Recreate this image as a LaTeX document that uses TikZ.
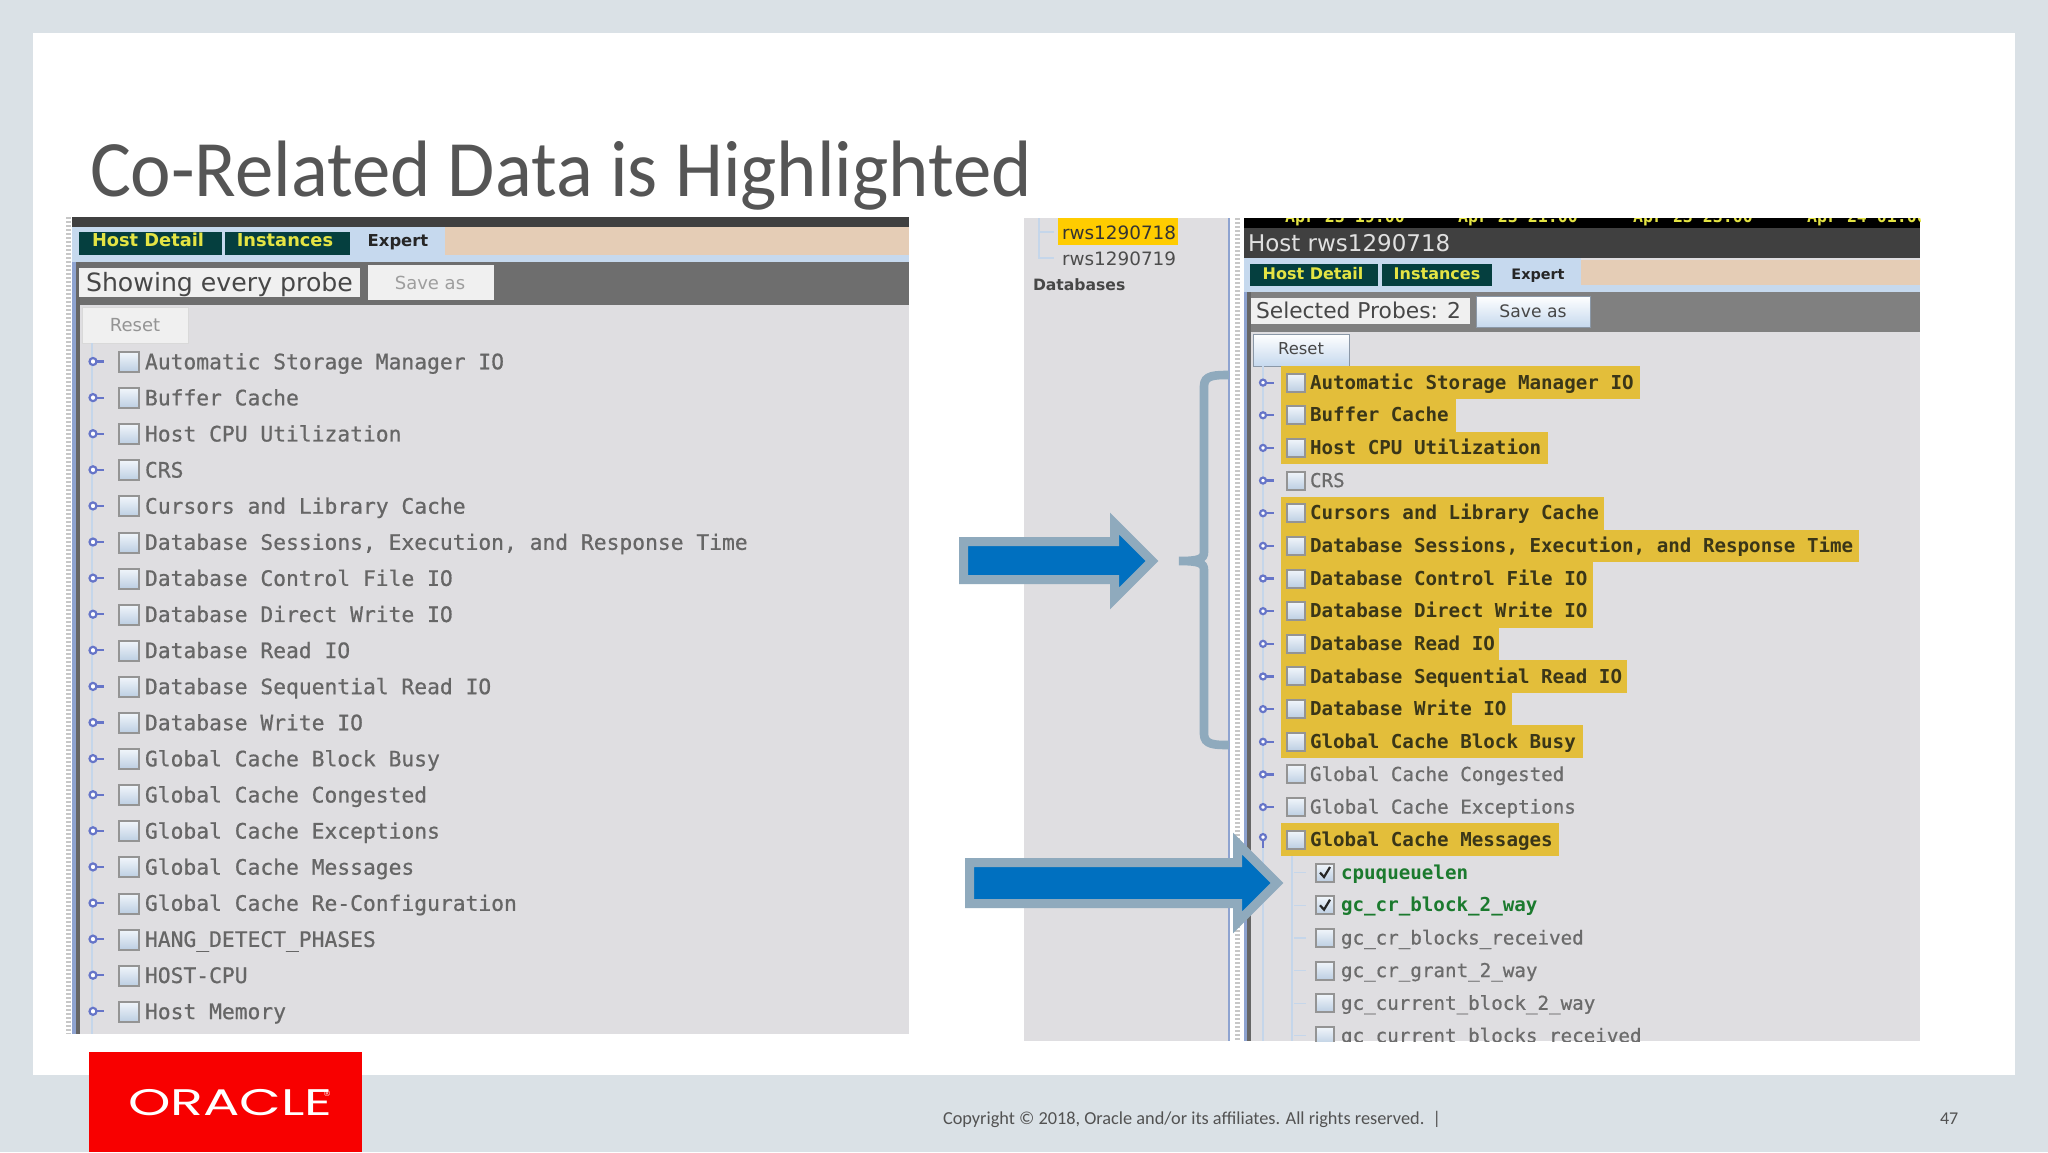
\documentclass[tikz,border=0pt]{standalone}
\usepackage{fontspec}
\setmainfont{Carlito}
\newfontfamily\monof[FakeBold=0.7]{DejaVu Sans Mono}
\newfontfamily\monoB{DejaVu Sans Mono}
\newfontfamily\uif{DejaVu Sans}
\newfontfamily\logof{Poppins}
\definecolor{slidebg}{HTML}{DAE1E6}
\definecolor{titlec}{HTML}{555555}
\definecolor{panelc}{HTML}{DFDEE1}
\definecolor{tabc}{HTML}{053F3F}
\definecolor{tabt}{HTML}{E4E444}
\definecolor{peach}{HTML}{E5CDB6}
\definecolor{tabl}{HTML}{C6D9EE}
\definecolor{barL}{HTML}{6E6E6E}
\definecolor{barR}{HTML}{808080}
\definecolor{hilite}{HTML}{E3BE3A}
\definecolor{gold}{HTML}{FFCC00}
\definecolor{arrowb}{HTML}{8FAABD}
\definecolor{arrowf}{HTML}{0070C0}
\definecolor{knob}{HTML}{6675C8}
\definecolor{tree}{HTML}{C5D6EA}
\definecolor{edge}{HTML}{8EA3D0}
\definecolor{orared}{HTML}{F80000}
\definecolor{rowgrey}{HTML}{666666}
\definecolor{rowdark}{HTML}{3A3618}
\definecolor{rowgreen}{HTML}{1B7A2E}
\tikzset{
  txt/.style={inner sep=0pt,outer sep=0pt},
  labL/.style={txt,anchor=mid west,text=rowgrey,font=\monof\fontsize{10.65}{12}\selectfont},
  labR/.style={txt,anchor=mid west,font=\monof\fontsize{9.6}{12}\selectfont},
  labRb/.style={txt,anchor=mid west,font=\monoB\bfseries\fontsize{9.6}{12}\selectfont},
  tabname/.style={txt,anchor=mid,text=tabt,font=\uif\bfseries\fontsize{8.9}{10}\selectfont},
  tabon/.style={txt,anchor=mid,text=black!85,font=\uif\bfseries\fontsize{8.2}{10}\selectfont},
  boxc/.style={draw=black!42,line width=1pt,top color=tabl!25!white,bottom color=tabl!95!black},
  btn/.style={draw=tabl!70!black,line width=.5pt,top color=white,bottom color=tabl},
  btnoff/.style={draw=black!15,line width=.5pt,fill=black!6},
  treeline/.style={draw=tree,line width=.6pt},
  knobc/.style={draw=knob,line width=1.1pt},
  bigarrow/.style={draw=arrowb,fill=arrowf,line width=4.5pt,miter limit=10},
  dotstrip/.style={draw=black!22,line width=2.5pt,dash pattern=on 1pt off 1pt}
}
\begin{document}
\begin{tikzpicture}[x=.5pt,y=-.5pt]
\useasboundingbox (0,0) rectangle (2048,1152);
\fill[slidebg] (0,0) rectangle (2048,1152);
\fill[white] (33,33) rectangle (2015,1075);
\node[txt,anchor=base west,text=titlec,font=\fontsize{40}{48}\selectfont] (title) at (90,196) {\scalebox{.96}[1]{Co-Related Data is Highlighted}};

% ---------- left panel
\fill[panelc] (72,217) rectangle (909,1034);
\draw[dotstrip] (68,217) -- (68,1034);
\fill[edge] (72,260) rectangle (76,1034);
\fill[black!60] (76,260) rectangle (80,1034);
\fill[black!75] (72,217) rectangle (909,227);
\fill[tabl] (72,227) rectangle (445,262);
\fill[peach] (445,227) rectangle (909,255);
\fill[tabl] (445,255) rectangle (909,262);
\fill[tabc] (79,232) rectangle (222,255);
\fill[tabc] (225,232) rectangle (350,255);
\node[tabname] (ltab1) at (148,242) {Host Detail};
\node[tabname] (ltab2) at (285,242) {Instances};
\node[tabon] (ltab3) at (398,242) {Expert};
\fill[barL] (80,262) rectangle (909,305);
\fill[black!6] (79,268) rectangle (360,297);
\node[txt,anchor=mid west,text=black!72,font=\uif\fontsize{12.6}{14}\selectfont] (lshow) at (86,287) {Showing every probe};
\fill[black!6] (368,265) rectangle (494,300);
\node[txt,text=black!38,font=\uif\fontsize{9}{11}\selectfont] (lsave) at (430,283) {Save as};
\path[btnoff] (82,307) rectangle (188,343);
\node[txt,text=black!42,font=\uif\fontsize{9}{11}\selectfont] (lreset) at (135,325) {Reset};
\draw[treeline] (92,343) -- (92,1034);
\foreach \i/\t in {0/Automatic Storage Manager IO,1/Buffer Cache,2/Host CPU Utilization,3/CRS,4/Cursors and Library Cache,5/{Database Sessions, Execution, and Response Time},6/Database Control File IO,7/Database Direct Write IO,8/Database Read IO,9/Database Sequential Read IO,10/Database Write IO,11/Global Cache Block Busy,12/Global Cache Congested,13/Global Cache Exceptions,14/Global Cache Messages,15/Global Cache Re-Configuration,16/HANG\_DETECT\_PHASES,17/HOST-CPU,18/Host Memory}{
  \path[boxc] (119,{352+\i*36.1}) rectangle (139,{372+\i*36.1});
  \draw[knobc,fill=white] (93,{361.5+\i*36.1}) circle (3.5);
  \draw[knobc] (97,{361.5+\i*36.1}) -- (104,{361.5+\i*36.1});
  \node[labL] (lrow\i) at (145,{364.5+\i*36.1}) {\t};
}

% ---------- right screenshot
\fill[panelc] (1024,218) rectangle (1228,1041);
\fill[white] (1229,218) rectangle (1244,1041);
\draw[dotstrip] (1237,218) -- (1237,1041);
\fill[edge] (1228,218) rectangle (1229.5,1041);
\fill[panelc] (1244,218) rectangle (1920,1041);
\draw[treeline] (1039,218) -- (1039,258) -- (1054,258);
\draw[treeline] (1039,232) -- (1054,232);
\fill[gold] (1058,218) rectangle (1178,245);
\node[txt,anchor=mid west,text=black!80,font=\uif\fontsize{9.2}{11}\selectfont] (rws1) at (1062,235) {rws1290718};
\node[txt,anchor=mid west,text=black!70,font=\uif\fontsize{9.2}{11}\selectfont] (rws2) at (1062,261) {rws1290719};
\node[txt,anchor=mid west,text=black!72,font=\uif\bfseries\fontsize{7.8}{10}\selectfont] (dbs) at (1033,285.5) {Databases};

\begin{scope}
\clip (1244,218) rectangle (1920,1041);
\fill[black] (1244,218) rectangle (1920,228);
\node[txt,anchor=mid west,text=tabt,font=\monoB\bfseries\fontsize{8.3}{10}\selectfont] (d1) at (1285,218) {Apr 23 19:00};
\node[txt,anchor=mid west,text=tabt,font=\monoB\bfseries\fontsize{8.3}{10}\selectfont] (d2) at (1458,218) {Apr 23 21:00};
\node[txt,anchor=mid west,text=tabt,font=\monoB\bfseries\fontsize{8.3}{10}\selectfont] (d3) at (1633,218) {Apr 23 23:00};
\node[txt,anchor=mid west,text=tabt,font=\monoB\bfseries\fontsize{8.3}{10}\selectfont] (d4) at (1807,218) {Apr 24 01:00};
\fill[black!75] (1244,228) rectangle (1920,258);
\node[txt,anchor=mid west,text=black!12,font=\uif\fontsize{11.5}{14}\selectfont] (rhost) at (1248,247) {Host rws1290718};
\fill[tabl] (1244,258) rectangle (1581,292);
\fill[peach] (1581,260) rectangle (1920,285);
\fill[tabl] (1581,285) rectangle (1920,292);
\fill[tabc] (1250,264) rectangle (1378,286);
\fill[tabc] (1382,264) rectangle (1492,286);
\node[tabname,font=\uif\bfseries\fontsize{8}{9}\selectfont] (rtab1) at (1313,275) {Host Detail};
\node[tabname,font=\uif\bfseries\fontsize{8}{9}\selectfont] (rtab2) at (1437,275) {Instances};
\node[tabon,font=\uif\bfseries\fontsize{7.2}{9}\selectfont] (rtab3) at (1538,275) {Expert};
\fill[barR] (1244,292) rectangle (1920,332);
\fill[black!6] (1250,298) rectangle (1470,324);
\node[txt,anchor=mid west,text=black!72,font=\uif\fontsize{10.9}{12}\selectfont] (rsel) at (1256,314) {Selected Probes: 2};
\path[btn] (1476,296) rectangle (1590,327);
\node[txt,text=black!72,font=\uif\fontsize{8.6}{10}\selectfont] (rsave) at (1533,311) {Save as};
\path[btn] (1253,334) rectangle (1349,366);
\node[txt,text=black!72,font=\uif\fontsize{8.2}{10}\selectfont] (rreset) at (1301,349) {Reset};
\fill[edge] (1244,292) rectangle (1247,1041);
\fill[black!60] (1247,292) rectangle (1251,1041);
\draw[treeline] (1263,366) -- (1263,1041);
\draw[treeline] (1292,856) -- (1292,1041);
\foreach \i/\t/\e in {0/Automatic Storage Manager IO/1640,1/Buffer Cache/1456,2/Host CPU Utilization/1548,3/CRS/0,4/Cursors and Library Cache/1604,5/{Database Sessions, Execution, and Response Time}/1859,6/Database Control File IO/1593,7/Database Direct Write IO/1593,8/Database Read IO/1499,9/Database Sequential Read IO/1627,10/Database Write IO/1512,11/Global Cache Block Busy/1583,12/Global Cache Congested/0,13/Global Cache Exceptions/0,14/Global Cache Messages/1559}{
  \ifnum\e>0
    \fill[hilite] (1281,{366.3+\i*32.65}) rectangle (\e,{399+\i*32.65});
    \node[labRb,text=rowdark] (rrow\i) at (1310,{384.4+\i*32.65}) {\t};
  \else
    \node[labR,text=black!58] (rrow\i) at (1310,{384.4+\i*32.65}) {\t};
  \fi
  \path[boxc] (1287,{373.6+\i*32.65}) rectangle (1305,{391.6+\i*32.65});
  \ifnum\i=14
    \draw[knobc,fill=white] (1263,{380+\i*32.65}) circle (3);
    \draw[knobc] (1263,{383+\i*32.65}) -- (1263,{391+\i*32.65});
  \else
    \draw[knobc,fill=white] (1263,{382.6+\i*32.65}) circle (3);
    \draw[knobc] (1266,{382.6+\i*32.65}) -- (1274,{382.6+\i*32.65});
  \fi
}
\foreach \i/\t/\c in {0/cpuqueuelen/1,1/gc\_cr\_block\_2\_way/1,2/gc\_cr\_blocks\_received/0,3/gc\_cr\_grant\_2\_way/0,4/gc\_current\_block\_2\_way/0,5/gc\_current\_blocks\_received/0}{
  \draw[treeline] (1294,{872.6+\i*32.65}) -- (1306,{872.6+\i*32.65});
  \path[boxc] (1316,{863.6+\i*32.65}) rectangle (1334,{881.6+\i*32.65});
  \ifnum\c=1
    \draw[black!85,line width=1.1pt] (1320,{872.6+\i*32.65}) -- (1324,{877+\i*32.65}) -- (1330,{867+\i*32.65});
    \node[labRb,text=rowgreen] (crow\i) at (1341,{874.4+\i*32.65}) {\t};
  \else
    \node[labR,text=black!58] (crow\i) at (1341,{874.4+\i*32.65}) {\t};
  \fi
}
\end{scope}

% ---------- callouts
\draw[bigarrow] (963.5,541.5) -- (1114.5,541.5) -- (1114.5,523.5) -- (1152,561) -- (1114.5,598.5) -- (1114.5,579.5) -- (963.5,579.5) -- cycle;
\draw[bigarrow] (969.5,862.5) -- (1237.5,862.5) -- (1237.5,843.5) -- (1277,883) -- (1237.5,922.5) -- (1237.5,903.5) -- (969.5,903.5) -- cycle;
\draw[arrowb,line width=4.3pt] (1229,375) .. controls (1215,375) and (1204,375) .. (1204,386) -- (1204,552) .. controls (1204,559) and (1199,561) .. (1179,561) .. controls (1199,561) and (1204,563) .. (1204,570) -- (1204,734) .. controls (1204,745) and (1215,745) .. (1229,745);

% ---------- footer
\fill[orared] (89,1052) rectangle (362,1152);
\node[txt,anchor=base west,text=white,font=\logof\fontsize{18.5}{20}\selectfont] (oracle) at (128,1115) {\scalebox{1.46}[1]{ORACLE}};
\node[txt,anchor=mid west,text=white,font=\uif\fontsize{4}{5}\selectfont] (oreg) at (323,1092) {®};
\node[txt,anchor=base west,text=black!68,font=\fontsize{9.15}{11}\selectfont] (copy) at (943,1124) {Copyright © 2018, Oracle and/or its affiliates. All rights reserved.~~|};
\node[txt,anchor=base west,text=black!68,font=\fontsize{9}{11}\selectfont] (pageno) at (1940,1124) {47};
\end{tikzpicture}
\end{document}
